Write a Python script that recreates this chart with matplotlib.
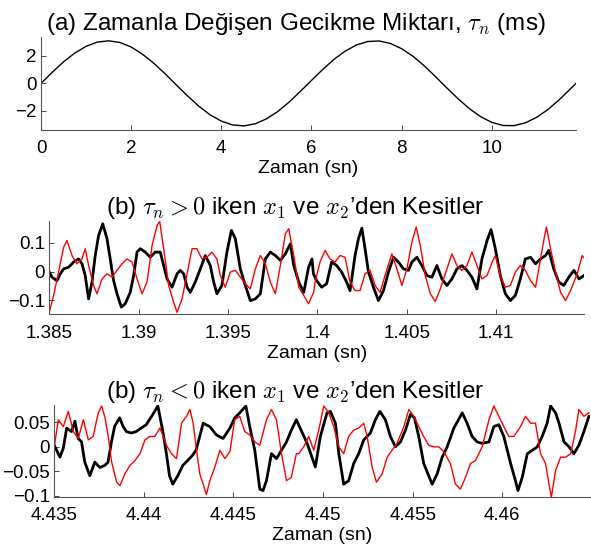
import numpy as np
import matplotlib
matplotlib.use('Agg')
import matplotlib.pyplot as plt

plt.rcParams['font.family'] = ['Liberation Sans', 'DejaVu Sans']
plt.rcParams['mathtext.fontset'] = 'cm'

# (a) gecikme miktari (ms)
tau_t = [0.0, 0.25, 0.5, 0.75, 1.0, 1.25, 1.5, 1.75, 2.0, 2.25, 2.5, 2.75,
         3.0, 3.25, 3.5, 3.75, 4.0, 4.25, 4.5, 4.75, 5.0, 5.25, 5.5, 5.75,
         6.0, 6.25, 6.5, 6.75, 7.0, 7.25, 7.5, 7.75, 8.0, 8.25, 8.5, 8.75,
         9.0, 9.25, 9.5, 9.75, 10.0, 10.25, 10.5, 10.75, 11.0, 11.25, 11.5, 11.75, 11.87]
tau_v = [0.0, 0.81, 1.57, 2.21, 2.70, 3.01, 3.10, 2.98, 2.65, 2.13, 1.47, 0.71,
         -0.11, -0.91, -1.66, -2.29, -2.75, -3.03, -3.10, -2.95, -2.59, -2.06, -1.38, -0.60,
         0.21, 1.01, 1.75, 2.35, 2.80, 3.05, 3.09, 2.91, 2.53, 1.98, 1.29, 0.50,
         -0.32, -1.11, -1.83, -2.42, -2.84, -3.07, -3.08, -2.87, -2.47, -1.90, -1.19, -0.39, 0.0]

# (b) tau_n > 0 : zaman (ms, 1.385 s'den itibaren)
p_x1_t = [0.00, 0.15, 0.43, 0.62, 0.80, 1.08, 1.36, 1.64, 1.83, 2.01, 2.20, 2.39, 2.57, 2.76,
          2.99, 3.23, 3.41, 3.60, 3.79, 4.03, 4.25, 4.53, 4.72, 4.91, 5.09, 5.37, 5.65, 5.93,
          6.21, 6.40, 6.59, 6.87, 7.15, 7.33, 7.52, 7.71, 7.89, 8.17, 8.45, 8.73, 9.01, 9.20,
          9.38, 9.66, 9.94, 10.19, 10.41, 10.69, 10.97, 11.25, 11.53, 11.81, 12.09, 12.37,
          12.65, 12.93, 13.21, 13.49, 13.68, 13.96, 14.24, 14.51, 14.70,
          14.78, 14.96, 15.24, 15.52, 15.80, 16.08, 16.36, 16.64, 16.83, 17.11, 17.30, 17.49,
          17.67, 17.86, 18.14, 18.42, 18.70, 18.98, 19.26, 19.54, 19.82, 20.10, 20.29, 20.57,
          20.85, 21.13, 21.41, 21.69, 21.97, 22.25, 22.53, 22.81, 23.09, 23.37, 23.65, 23.93,
          24.21, 24.50, 24.72, 24.96, 25.24, 25.52, 25.80, 26.08, 26.36, 26.64, 26.93, 27.21,
          27.49, 27.77, 27.95, 28.23, 28.51, 28.79, 29.07, 29.36, 29.64, 29.92]
p_x1_v = [-0.002, -0.020, -0.032, -0.008, 0.009, 0.015, 0.033, 0.044, 0.027, -0.014, -0.096,
          -0.037, 0.056, 0.126, 0.167, 0.115, 0.044, -0.032, -0.078, -0.125, -0.113, -0.073,
          -0.014, 0.068, 0.080, 0.068, 0.050, 0.068, 0.068, 0.021, -0.026, -0.055, -0.008,
          0.004, -0.008, -0.055, -0.073, -0.037, 0.009, 0.056, 0.021, -0.037, -0.078, -0.049,
          0.068, 0.144, 0.115, 0.009, -0.049, -0.102, -0.096, -0.078, 0.044, 0.068, 0.056,
          0.039, 0.062, 0.097, 0.021, -0.037, -0.073, 0.015, 0.044,
          -0.008, -0.032, -0.055, -0.043, 0.033, 0.021, -0.002, -0.037, -0.067, 0.056, 0.115,
          0.152, 0.080, -0.002, -0.055, -0.102, -0.067, -0.002, 0.050, 0.033, 0.009, 0.004,
          0.033, 0.050, 0.021, -0.014, -0.020, 0.021, -0.026, -0.049, -0.026, 0.009, 0.021,
          0.004, -0.020, -0.061, 0.044, 0.109, 0.147, 0.080, -0.014, -0.078, -0.102, -0.084,
          -0.026, 0.044, 0.050, 0.027, 0.044, 0.056, 0.074, 0.009, -0.037, -0.049, -0.020,
          0.004, -0.026, -0.014]
p_x2_t = [0.00, 0.24, 0.52, 0.80, 0.99, 1.27, 1.55, 1.83, 2.01, 2.20, 2.48, 2.67, 2.95, 3.23,
          3.51, 3.79, 4.07, 4.35, 4.63, 4.91, 5.19, 5.47, 5.75, 6.03, 6.18, 6.40, 6.68, 6.96,
          7.15, 7.43, 7.71, 7.99, 8.26, 8.54, 8.82, 9.10, 9.38, 9.57, 9.85, 10.13, 10.41,
          10.69, 10.97, 11.25, 11.53, 11.81, 12.09, 12.37, 12.65, 12.93, 13.21, 13.40, 13.68,
          13.96, 14.24, 14.51, 14.79,
          14.87, 15.15, 15.43, 15.71, 15.99, 16.27, 16.55, 16.83, 17.11, 17.39, 17.67, 17.95,
          18.23, 18.51, 18.79, 19.17, 19.45, 19.73, 20.01, 20.29, 20.53, 20.76, 21.04, 21.32,
          21.60, 21.88, 22.25, 22.53, 22.81, 23.09, 23.37, 23.65, 23.93, 24.21, 24.50, 24.78,
          24.96, 25.24, 25.52, 25.80, 26.08, 26.36, 26.64, 26.93, 27.21, 27.49, 27.67, 27.82,
          28.05, 28.33, 28.61, 28.89, 29.17, 29.54, 29.82, 29.97]
p_x2_v = [-0.143, -0.084, -0.002, 0.085, 0.109, 0.056, 0.027, 0.044, 0.080, 0.021, -0.049,
          -0.078, -0.026, -0.008, -0.020, 0.004, 0.027, 0.044, 0.033, -0.026, -0.078, -0.037,
          0.091, 0.161, 0.175, 0.080, -0.049, -0.108, -0.143, -0.096, -0.008, 0.080, 0.080,
          0.044, 0.050, 0.068, 0.044, -0.014, -0.055, -0.002, 0.004, -0.020, -0.043, -0.061,
          0.009, 0.056, 0.027, -0.037, -0.078, 0.021, 0.132, 0.150, 0.056, -0.055, -0.084,
          -0.113, -0.073,
          -0.037, 0.033, 0.074, 0.044, 0.033, 0.056, 0.050, -0.037, -0.067, -0.067, -0.008,
          0.004, -0.049, -0.073, -0.014, 0.062, 0.009, -0.049, 0.009, 0.103, 0.156, 0.091,
          -0.014, -0.078, -0.105, -0.061, 0.009, 0.062, 0.021, 0.004, 0.021, 0.068, 0.021,
          -0.026, -0.014, 0.033, 0.056, -0.014, -0.055, -0.049, -0.002, 0.021, 0.004, -0.032,
          -0.055, 0.044, 0.109, 0.156, 0.080, -0.002, -0.073, -0.102, -0.067, -0.008, 0.056,
          0.044]

# (b) tau_n < 0 : zaman (ms, 4.435 s'den itibaren)
n_x1_t = [0.00, 0.31, 0.50, 0.69, 0.96, 1.15, 1.33, 1.52, 1.70, 1.98, 2.26, 2.54, 2.81, 3.00,
          3.19, 3.37, 3.65, 3.83, 4.02, 4.30, 4.57, 4.85, 5.13, 5.50, 5.78, 6.06, 6.24, 6.43,
          6.61, 6.89, 7.17, 7.44, 7.72, 7.91, 8.31, 8.68, 9.05, 9.42, 9.80, 10.07, 10.35,
          10.69, 10.91, 11.19, 11.47, 11.65, 11.84, 12.12, 12.40, 12.68, 12.96, 13.23, 13.51,
          14.11, 14.57, 14.85, 15.22, 15.41, 15.69, 15.88, 16.15, 16.43, 16.71, 16.99, 17.27,
          17.64, 17.92, 18.17, 18.48, 18.76, 19.04, 19.32, 19.60, 19.88, 20.10, 20.34, 20.62,
          21.09, 21.37, 21.65, 21.93, 22.30, 22.77, 23.04, 23.32, 23.60, 23.88, 24.26, 24.53,
          24.81, 25.09, 25.47, 25.74, 25.88, 26.12, 26.40, 26.68, 26.96, 27.23, 27.51, 27.70,
          27.98, 28.17, 28.45, 28.73, 29.00, 29.28, 29.56, 29.84]
n_x1_v = [0.003, -0.021, -0.003, 0.038, 0.031, 0.052, 0.017, 0.010, -0.031, -0.059, -0.031,
          -0.042, -0.038, -0.031, 0.010, 0.042, 0.059, 0.042, 0.031, 0.028, 0.031, 0.038,
          0.045, 0.066, 0.083, 0.031, -0.010, -0.059, -0.076, -0.059, -0.038, -0.028, -0.017,
          -0.007, 0.048, 0.041, 0.024, 0.017, 0.038, 0.059, 0.069, 0.083, 0.041, -0.007,
          -0.086, -0.089, -0.069, -0.014, -0.024, -0.007, 0.010, 0.034, 0.055,
          0.007, -0.041, 0.021, 0.069, 0.072, 0.048, -0.014, -0.076, -0.069, -0.034, -0.014,
          0.014, 0.028, 0.055, 0.072, 0.055, 0.021, 0.000, 0.010, 0.034, 0.066, 0.059, 0.021,
          -0.034, -0.076, -0.055, -0.021, 0.000, 0.038, 0.069, 0.048, 0.021, 0.010, 0.007,
          0.010, 0.041, 0.045, 0.021, -0.034, -0.069, -0.089, -0.062, -0.014, -0.007, 0.000,
          0.021, 0.048, 0.083, 0.069, 0.048, 0.010, 0.000, -0.014, 0.003, 0.031, 0.062]
n_x2_t = [0.00, 0.22, 0.50, 0.78, 1.06, 1.34, 1.62, 1.90, 2.17, 2.45, 2.64, 2.83, 3.01, 3.20,
          3.48, 3.66, 3.94, 4.22, 4.50, 4.78, 5.06, 5.33, 5.61, 5.89, 6.08, 6.26, 6.54, 6.82,
          7.10, 7.38, 7.57, 7.75, 7.94, 8.12, 8.31, 8.49, 8.68, 8.96, 9.24, 9.52, 9.80, 10.07,
          10.35, 10.63, 10.91, 11.19, 11.47, 11.84, 12.12, 12.40, 12.68, 12.96, 13.23, 13.51,
          13.64, 13.92, 14.20, 14.48, 14.76, 15.04, 15.32, 15.60, 15.88, 16.15, 16.43, 16.71,
          16.99, 17.27, 17.46, 17.74, 17.98, 18.30, 18.58, 18.85, 19.13, 19.51, 19.79, 20.07,
          20.34, 20.62, 20.90, 21.18, 21.46, 21.74, 22.11, 22.39, 22.67, 22.95, 23.23, 23.51,
          23.88, 24.26, 24.53, 24.81, 25.09, 25.37, 25.65, 26.02, 26.30, 26.58, 26.86, 27.14,
          27.42, 27.61, 27.74, 27.98, 28.26, 28.54, 28.82, 29.10, 29.28, 29.56, 29.84]
n_x2_v = [0.000, 0.055, 0.041, 0.072, 0.031, 0.017, 0.055, 0.014, 0.021, 0.069, 0.083, 0.059,
          0.021, -0.031, -0.072, -0.079, -0.055, -0.038, -0.028, -0.014, 0.014, 0.021, 0.021,
          0.038, 0.021, 0.003, -0.014, -0.024, 0.048, 0.062, 0.076, 0.048, -0.007, -0.055,
          -0.076, -0.097, -0.069, -0.041, -0.007, -0.024, -0.010, 0.055, 0.062, 0.031, 0.024,
          0.010, 0.003, 0.055, 0.076, 0.055, -0.014, -0.069, -0.062, -0.014,
          -0.014, 0.000, 0.021, -0.007, 0.034, 0.083, 0.069, 0.041, 0.000, -0.014, 0.021,
          0.034, 0.038, 0.048, 0.021, -0.041, -0.072, -0.055, -0.021, -0.007, 0.007, 0.041,
          0.076, 0.062, 0.041, 0.021, 0.003, 0.000, 0.000, -0.010, -0.034, -0.076, -0.086,
          -0.062, -0.034, -0.028, 0.000, 0.055, 0.083, 0.062, 0.041, 0.021, 0.021, 0.041,
          0.062, 0.048, 0.048, -0.014, -0.034, -0.076, -0.103, -0.048, -0.021, -0.021, -0.014,
          0.034, 0.076, 0.062, 0.069]

fig = plt.figure(figsize=(5.91, 5.47), dpi=100)
ax1 = fig.add_axes([0.0694, 0.7623, 0.9052, 0.1706])
ax2 = fig.add_axes([0.0834, 0.4254, 0.9053, 0.1711])
ax3 = fig.add_axes([0.0919, 0.0920, 0.9064, 0.1676])

ax1.plot(tau_t, tau_v, color='black', lw=1.0)
ax1.set_xlim(0, 11.87)
ax1.set_ylim(-3.4, 3.4)
ax1.set_xticks([0, 2, 4, 6, 8, 10])
ax1.set_xticklabels(['0', '2', '4', '6', '8', '10'])
ax1.set_yticks([-2, 0, 2])
ax1.set_yticklabels(['\u22122', '0', '2'])
ax1.set_title('(a) Zamanla Değişen Gecikme Miktarı, $\\tau_n$ (ms)', fontsize=17.5, pad=3)

ax2.plot(1.385 + np.array(p_x1_t) / 1000, p_x1_v, color='black', lw=2.0)
ax2.plot(1.385 + np.array(p_x2_t) / 1000, p_x2_v, color='red', lw=1.0)
ax2.set_xlim(1.385, 1.41494)
ax2.set_ylim(-0.15, 0.178)
ax2.set_xticks([1.385, 1.39, 1.395, 1.4, 1.405, 1.41])
ax2.set_xticklabels(['1.385', '1.39', '1.395', '1.4', '1.405', '1.41'])
ax2.set_yticks([-0.1, 0, 0.1])
ax2.set_yticklabels(['\u22120.1', '0', '0.1'])
ax2.set_title('(b) $\\tau_n > 0$ iken $x_1$ ve $x_2$\u2019den Kesitler', fontsize=17.5, pad=3)

ax3.plot(4.435 + np.array(n_x1_t) / 1000, n_x1_v, color='black', lw=2.0)
ax3.plot(4.435 + np.array(n_x2_t) / 1000, n_x2_v, color='red', lw=1.0)
ax3.set_xlim(4.435, 4.4649)
ax3.set_ylim(-0.1014, 0.085)
ax3.set_xticks([4.435, 4.44, 4.445, 4.45, 4.455, 4.46])
ax3.set_xticklabels(['4.435', '4.44', '4.445', '4.45', '4.455', '4.46'])
ax3.set_yticks([-0.1, -0.05, 0, 0.05])
ax3.set_yticklabels(['\u22120.1', '\u22120.05', '0', '0.05'])
ax3.set_title('(b) $\\tau_n < 0$ iken $x_1$ ve $x_2$\u2019den Kesitler', fontsize=17.5, pad=3)

for ax in (ax1, ax2, ax3):
    ax.spines['top'].set_visible(False)
    ax.spines['right'].set_visible(False)
    ax.spines['left'].set_color('#555555')
    ax.spines['bottom'].set_color('#555555')
    ax.tick_params(direction='in', length=3.5, width=0.7, color='#444444',
                   labelsize=13.5)
    ax.tick_params(axis='x', pad=7.5)
    ax.tick_params(axis='y', pad=3)
    ax.set_xlabel('Zaman (sn)', fontsize=14, labelpad=2)
    # basliklar sekil genisliginde ortali
    pos = ax.get_position()
    ax.title.set_x((0.5 - pos.x0) / pos.width)

fig.savefig('out.png', dpi=100)
